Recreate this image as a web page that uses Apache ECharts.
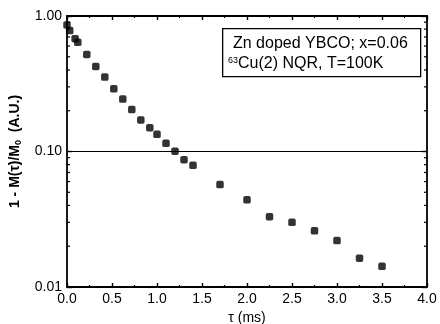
<!DOCTYPE html>
<html>
<head>
<meta charset="utf-8">
<script src="https://cdn.jsdelivr.net/npm/echarts@6/dist/echarts.min.js"></script>
<style>html,body{margin:0;padding:0;background:#fff}#c{width:440px;height:324px}</style>
</head>
<body>
<div id="c"></div>
<script>
var tau = [0.0, 0.03, 0.09, 0.12, 0.22, 0.32, 0.42, 0.52, 0.62, 0.72, 0.82, 0.92, 1.0, 1.1, 1.2, 1.3, 1.4, 1.7, 2.0, 2.25, 2.5, 2.75, 3.0, 3.25, 3.5];
var signal = [0.86, 0.78, 0.68, 0.64, 0.52, 0.424, 0.354, 0.29, 0.244, 0.204, 0.171, 0.15, 0.134, 0.115, 0.1005, 0.087, 0.079, 0.057, 0.044, 0.033, 0.030, 0.026, 0.022, 0.0163, 0.0142];
var xTicks = [0, 0.5, 1.0, 1.5, 2.0, 2.5, 3.0, 3.5, 4.0];
var yTicks = [0.01, 0.1, 1];
var yMinorTicks = [0.02, 0.03, 0.04, 0.05, 0.06, 0.07, 0.08, 0.09, 0.2, 0.3, 0.4, 0.5, 0.6, 0.7, 0.8, 0.9];
var legendLines = ['Zn doped YBCO; x=0.06', '{sup|63}Cu(2) NQR, T=100K'];

var font = 'Liberation Sans';
var chart = echarts.init(document.getElementById('c'), null, {renderer: 'canvas'});
var pts = tau.map(function (t, i) { return [t, signal[i]]; });
var xMin = xTicks[0], xMax = xTicks[xTicks.length - 1];

var axisLine = {show: true, onZero: false, lineStyle: {color: '#000', width: 1.8}};
chart.setOption({
  animation: false,
  backgroundColor: '#fff',
  grid: {left: 67, right: 13, top: 16, bottom: 37, containLabel: false, outerBoundsMode: 'none'},
  xAxis: [{
    type: 'value', min: xMin, max: xMax, interval: 0.5, position: 'bottom',
    axisLine: axisLine,
    axisTick: {show: true, inside: true, length: 4, lineStyle: {color: '#000', width: 1.4}},
    minorTick: {show: true, splitNumber: 2, length: 2, lineStyle: {color: '#000', width: 1.2}},
    splitLine: {show: false},
    axisLabel: {color: '#000', fontFamily: font, fontSize: 14, margin: 5,
      formatter: function (v) { return v.toFixed(1); }},
    name: 'τ (ms)', nameLocation: 'middle', nameGap: 18,
    nameTextStyle: {color: '#000', fontFamily: font, fontSize: 14}
  }, {
    type: 'value', min: xMin, max: xMax, interval: 0.5, position: 'top',
    axisLine: axisLine,
    axisTick: {show: true, inside: true, length: 4, lineStyle: {color: '#000', width: 1.4}},
    minorTick: {show: true, splitNumber: 2, length: 2, lineStyle: {color: '#000', width: 1.2}},
    splitLine: {show: false}, axisLabel: {show: false}
  }],
  yAxis: [{
    type: 'log', logBase: 10, min: yTicks[0], max: yTicks[yTicks.length - 1], position: 'left',
    axisLine: axisLine,
    axisTick: {show: true, inside: true, length: 5, lineStyle: {color: '#000', width: 1.4}},
    minorTick: {show: false},
    splitLine: {show: true, lineStyle: {color: '#000', width: 1}},
    axisLabel: {color: '#000', fontFamily: font, fontSize: 14, margin: 5,
      formatter: function (v) { return v.toFixed(2); }},
    name: '1 - M(τ)/M{sub|0}  (A.U.)', nameLocation: 'middle', nameGap: 44, nameRotate: 90,
    nameTextStyle: {color: '#000', fontFamily: font, fontSize: 14, fontWeight: 'bold',
      rich: {sub: {fontSize: 9, fontFamily: font, fontWeight: 'bold', color: '#000', verticalAlign: 'bottom', padding: [6, 0, 0, 0]}}}
  }, {
    type: 'log', logBase: 10, min: yTicks[0], max: yTicks[yTicks.length - 1], position: 'right',
    axisLine: axisLine,
    axisTick: {show: true, inside: true, length: 5, lineStyle: {color: '#000', width: 1.4}},
    splitLine: {show: false}, axisLabel: {show: false}
  }],
  graphic: [{
    type: 'rect', left: 222, top: 28,
    shape: {width: 198, height: 48},
    style: {fill: '#fff', stroke: '#000', lineWidth: 1.3}, z: 10
  }, {
    type: 'text', left: 233, top: 36, z: 11,
    style: {text: legendLines[0], fill: '#000', font: '16px ' + font}
  }, {
    type: 'text', left: 228, top: 56, z: 11,
    style: {text: legendLines[1], fill: '#000', font: '16px ' + font,
      rich: {sup: {fontSize: 9, fill: '#000', fontFamily: font, verticalAlign: 'top', padding: [0, 0, 7, 0]}}}
  }],
  series: [{
    type: 'scatter', xAxisIndex: 0, yAxisIndex: 0,
    data: pts, symbol: 'roundRect', symbolSize: 7.5,
    itemStyle: {color: '#000'}, z: 5
  }, {
    type: 'custom', xAxisIndex: 0, yAxisIndex: 0, silent: true,
    data: yMinorTicks.map(function (v) { return [xMin, v]; }),
    renderItem: function (params, api) {
      var pl = api.coord([xMin, api.value(1)]);
      var pr = api.coord([xMax, api.value(1)]);
      var st = {stroke: '#000', lineWidth: 1.2};
      return {type: 'group', children: [
        {type: 'line', shape: {x1: pl[0], y1: pl[1], x2: pl[0] + 3, y2: pl[1]}, style: st},
        {type: 'line', shape: {x1: pr[0], y1: pr[1], x2: pr[0] - 3, y2: pr[1]}, style: st}
      ]};
    }
  }]
});
</script>
</body>
</html>
